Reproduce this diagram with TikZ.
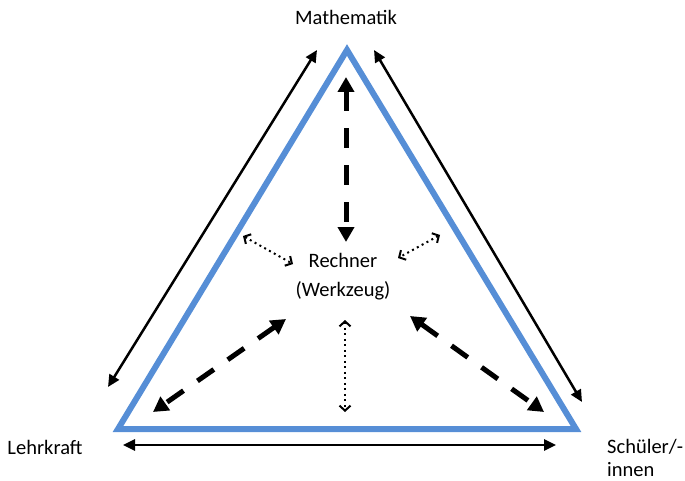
\documentclass[tikz,border=0pt]{standalone}
\usepackage{fontspec}
\setmainfont{Carlito}
\usetikzlibrary{arrows.meta}
\definecolor{dreieck}{RGB}{86,142,214}

\begin{document}
\begin{tikzpicture}[x=1pt, y=-1pt,
    every node/.style={font=\fontsize{20.5}{23}\selectfont, inner sep=0pt},
    rand/.style={draw=dreieck, line width=6pt, line join=miter},
    beziehung/.style={line width=2.5pt, {Triangle[length=12pt,width=11pt]}-{Triangle[length=12pt,width=11pt]}},
    werkzeug/.style={line width=5pt, dash pattern=on 20pt off 17pt, {Triangle[length=15pt,width=16pt]}-{Triangle[length=15pt,width=16pt]}},
    punkte/.style={line width=2pt, dash pattern=on 2pt off 3.5pt, {Straight Barb[length=5pt,width=11pt]}-{Straight Barb[length=5pt,width=11pt]}}]
    \useasboundingbox (0,0) rectangle (685,481);
    % Beschriftungen
    \node (mathe) at (346,17) {Mathematik};
    \node (lehr) at (45,447) {Lehrkraft};
    \node[align=left, anchor=west] (schueler) at (607,458) {Schüler/-\\innen};
    \node[align=center] (rechner) at (343,277) {Rechner\\[6pt](Werkzeug)};
    % Dreieck
    \coordinate (m) at (347,50);
    \coordinate (l) at (118,429);
    \coordinate (s) at (576,429);
    \draw[rand] (m) -- (l) -- (s) -- cycle;
    % aeussere Pfeile
    \coordinate (ml1) at (317,50);
    \coordinate (ml2) at (108,387);
    \coordinate (ms1) at (374,50);
    \coordinate (ms2) at (582,402);
    \coordinate (ls1) at (123,445);
    \coordinate (ls2) at (556,445);
    \draw[beziehung] (ml1) -- (ml2);
    \draw[beziehung] (ms1) -- (ms2);
    \draw[beziehung] (ls1) -- (ls2);
    % Rechner
    \coordinate (rm1) at (346,77);
    \coordinate (rm2) at (346,242);
    \coordinate (rl1) at (286,319);
    \coordinate (rl2) at (153,412);
    \coordinate (rs1) at (410,316);
    \coordinate (rs2) at (544,412);
    \draw[werkzeug] (rm1) -- (rm2);
    \draw[werkzeug] (rl1) -- (rl2);
    \draw[werkzeug] (rs1) -- (rs2);
    % punktierte Pfeile
    \coordinate (pl1) at (243,236);
    \coordinate (pl2) at (293,264);
    \coordinate (ps1) at (440,235);
    \coordinate (ps2) at (398,258);
    \coordinate (pu1) at (345,320);
    \coordinate (pu2) at (345,412);
    \draw[punkte] (pl1) -- (pl2);
    \draw[punkte] (ps1) -- (ps2);
    \draw[punkte] (pu1) -- (pu2);
\end{tikzpicture}
\end{document}
